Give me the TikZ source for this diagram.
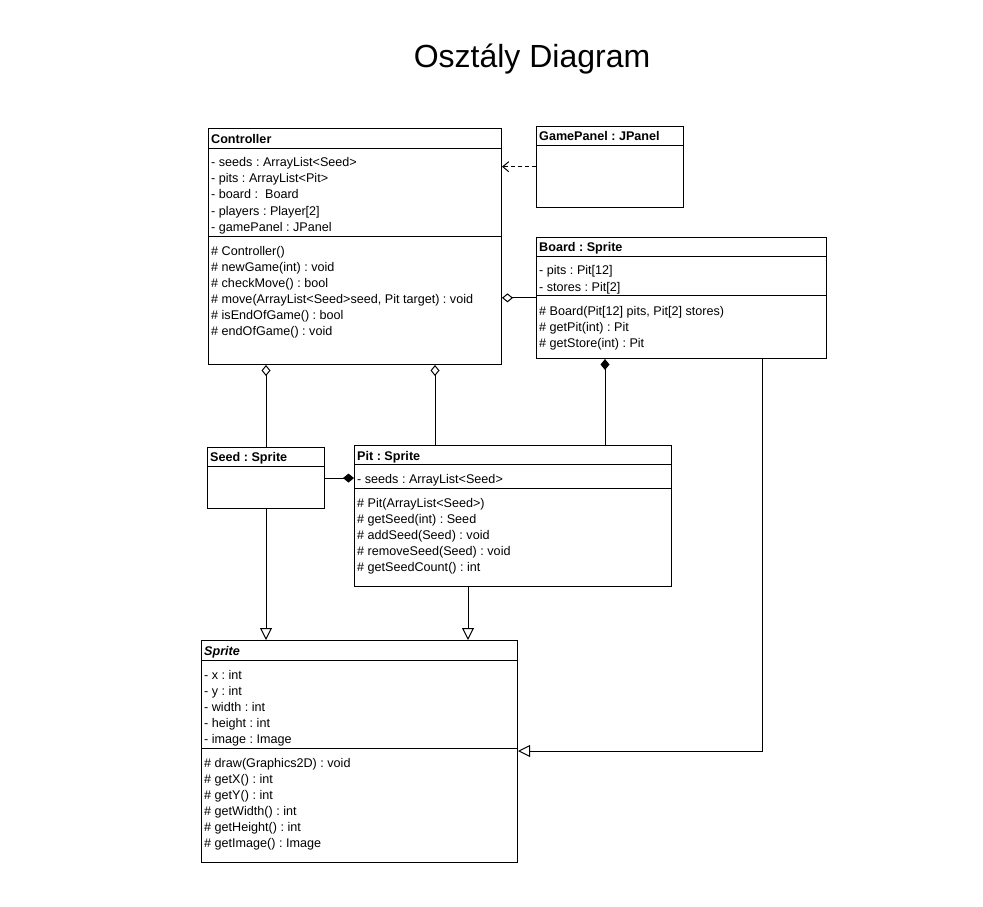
\documentclass[tikz,border=0pt]{standalone}
\usepackage{fontspec}
\setmainfont{Liberation Sans}
\usetikzlibrary{arrows.meta}
\frenchspacing

\tikzset{
    classbox/.style={draw, line width=1pt, rectangle, anchor=north west, inner sep=0pt},
    classline/.style={anchor=base west, inner sep=0pt},
    sepline/.style={line width=1pt},
    aggr/.style={line width=1pt, {Diamond[open, length=11pt, width=9pt]}-},
    comp/.style={line width=1pt, -{Diamond[length=11pt, width=9pt]}},
    gen/.style={line width=1pt, -{Triangle[open, length=12pt, width=12pt]}},
    dep/.style={line width=1pt, dashed, dash pattern=on 4pt off 3pt, -{Straight Barb[length=6pt, width=10pt]}},
}

\begin{document}
\begin{tikzpicture}[x=1pt, y=-1pt, font=\fontsize{12.6}{16}\selectfont]

    \useasboundingbox (0,0) rectangle (983,907);

    \node[anchor=base] (title) at (532,68) {\fontsize{32}{38}\selectfont Osztály Diagram};

    % Controller
    \node[classbox, minimum width=293pt, minimum height=236pt] (ctrl) at (208,128) {};
    \draw[sepline] ([yshift=-20pt]ctrl.north west) -- ([yshift=-20pt]ctrl.north east);
    \draw[sepline] ([yshift=-108.5pt]ctrl.north west) -- ([yshift=-108.5pt]ctrl.north east);
    \node[classline] (ctrl-name) at ([xshift=3pt, yshift=-15.5pt]ctrl.north west) {\textbf{Controller}};
    \foreach \t [count=\i from 0] in {- seeds : ArrayList<Seed>, - pits : ArrayList<Pit>,
            - board :~~Board, - players : Player[2], - gamePanel : JPanel}
        \node[classline] (ctrl-a\i) at ([xshift=3pt, yshift=-38.5pt-16.2pt*\i]ctrl.north west) {\t};
    \foreach \t [count=\i from 0] in {\# Controller(), \# newGame(int) : void, \# checkMove() : bool,
            {\# move(ArrayList<Seed>seed, Pit target) : void}, \# isEndOfGame() : bool, \# endOfGame() : void}
        \node[classline] (ctrl-m\i) at ([xshift=3pt, yshift=-127.5pt-16pt*\i]ctrl.north west) {\t};

    % GamePanel
    \node[classbox, minimum width=147pt, minimum height=81pt] (gp) at (536,125.7) {};
    \draw[sepline] ([yshift=-19.5pt]gp.north west) -- ([yshift=-19.5pt]gp.north east);
    \node[classline] (gp-name) at ([xshift=3pt, yshift=-15pt]gp.north west) {\textbf{GamePanel : JPanel}};

    % Board
    \node[classbox, minimum width=290pt, minimum height=121.3pt] (board) at (536,236.7) {};
    \draw[sepline] ([yshift=-20pt]board.north west) -- ([yshift=-20pt]board.north east);
    \draw[sepline] ([yshift=-58.3pt]board.north west) -- ([yshift=-58.3pt]board.north east);
    \node[classline] (board-name) at ([xshift=3pt, yshift=-15pt]board.north west) {\textbf{Board : Sprite}};
    \foreach \t [count=\i from 0] in {- pits : Pit[12], - stores : Pit[2]}
        \node[classline] (board-a\i) at ([xshift=3pt, yshift=-38pt-16.5pt*\i]board.north west) {\t};
    \foreach \t [count=\i from 0] in {{\# Board(Pit[12] pits, Pit[2] stores)}, \# getPit(int) : Pit, \# getStore(int) : Pit}
        \node[classline] (board-m\i) at ([xshift=3pt, yshift=-78.8pt-16pt*\i]board.north west) {\t};

    % Seed
    \node[classbox, minimum width=117pt, minimum height=61.7pt] (seed) at (207,446.7) {};
    \draw[sepline] ([yshift=-20pt]seed.north west) -- ([yshift=-20pt]seed.north east);
    \node[classline] (seed-name) at ([xshift=3pt, yshift=-15pt]seed.north west) {\textbf{Seed : Sprite}};

    % Pit
    \node[classbox, minimum width=317pt, minimum height=141pt] (pit) at (354,445) {};
    \draw[sepline] ([yshift=-19.3pt]pit.north west) -- ([yshift=-19.3pt]pit.north east);
    \draw[sepline] ([yshift=-43.3pt]pit.north west) -- ([yshift=-43.3pt]pit.north east);
    \node[classline] (pit-name) at ([xshift=3pt, yshift=-15pt]pit.north west) {\textbf{Pit : Sprite}};
    \node[classline] (pit-a0) at ([xshift=3pt, yshift=-38.5pt]pit.north west) {- seeds : ArrayList<Seed>};
    \foreach \t [count=\i from 0] in {\# Pit(ArrayList<Seed>), \# getSeed(int) : Seed, \# addSeed(Seed) : void,
            \# removeSeed(Seed) : void, \# getSeedCount() : int}
        \node[classline] (pit-m\i) at ([xshift=3pt, yshift=-62.5pt-16pt*\i]pit.north west) {\t};

    % Sprite
    \node[classbox, minimum width=316pt, minimum height=222pt] (sprite) at (201,640) {};
    \draw[sepline] ([yshift=-20pt]sprite.north west) -- ([yshift=-20pt]sprite.north east);
    \draw[sepline] ([yshift=-108pt]sprite.north west) -- ([yshift=-108pt]sprite.north east);
    \node[classline] (sprite-name) at ([xshift=3pt, yshift=-15.5pt]sprite.north west) {\textbf{\textit{Sprite}}};
    \foreach \t [count=\i from 0] in {- x : int, - y : int, - width : int, - height : int, - image : Image}
        \node[classline] (sprite-a\i) at ([xshift=3pt, yshift=-39.5pt-16pt*\i]sprite.north west) {\t};
    \foreach \t [count=\i from 0] in {\# draw(Graphics2D) : void, \# getX() : int, \# getY() : int,
            \# getWidth() : int, \# getHeight() : int, \# getImage() : Image}
        \node[classline] (sprite-m\i) at ([xshift=3pt, yshift=-127.5pt-16pt*\i]sprite.north west) {\t};

    % connectors
    \coordinate (cpit) at (435,0);
    \coordinate (cbrd) at (605,0);
    \coordinate (cgen) at (468,0);
    \coordinate (cbend) at (762,751);

    \draw[dep] (gp.west) -- (gp.west -| ctrl.east);
    \draw[aggr] (ctrl.east |- board.west) -- (board.west);
    \draw[aggr] (ctrl.south -| seed.north) -- (seed.north);
    \draw[aggr] (ctrl.south -| cpit) -- (pit.north -| cpit);
    \draw[comp] (pit.north -| cbrd) -- (board.south -| cbrd);
    \draw[comp] (seed.east) -- (seed.east -| pit.west);
    \draw[gen] (seed.south) -- (seed.south |- sprite.north);
    \draw[gen] (pit.south -| cgen) -- (sprite.north -| cgen);
    \draw[gen] (board.south -| cbend) |- (sprite.east |- cbend);

\end{tikzpicture}
\end{document}
